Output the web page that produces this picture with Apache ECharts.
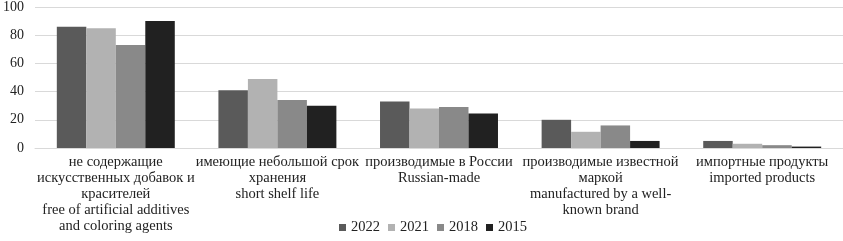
<!DOCTYPE html>
<html>
<head>
<meta charset="utf-8">
<script src="https://cdn.jsdelivr.net/npm/echarts@6/dist/echarts.min.js"></script>
<style>
  html, body { margin: 0; padding: 0; background: #fff; }
  #chart { width: 843px; height: 241px; }
</style>
</head>
<body>
<div id="chart"></div>
<script>
const categories = [
  'не содержащие\nискусственных добавок и\nкрасителей\nfree of artificial additives\nand coloring agents',
  'имеющие небольшой срок\nхранения\nshort shelf life',
  'производимые в России\nRussian-made',
  'производимые известной\nмаркой\nmanufactured by a well-\nknown brand',
  'импортные продукты\nimported products'
]
const years = ['2022', '2021', '2018', '2015']
const values2022 = [86, 41, 33, 20, 5]
const values2021 = [85, 49, 28, 11.5, 3]
const values2018 = [73, 34, 29, 16, 2]
const values2015 = [90, 30, 24.5, 5, 1]
const yTicks = [0, 20, 40, 60, 80, 100]

const colors = ['#5a5a5a', '#b2b2b2', '#898989', '#212121']
const font = 'Liberation Serif'

const chart = echarts.init(document.getElementById('chart'))
chart.setOption({
  animation: false,
  textStyle: { fontFamily: font },
  grid: {
    left: 32,
    right: -16,
    top: 5,
    bottom: 93
  },
  legend: {
    data: years,
    top: 215,
    left: 334,
    itemWidth: 7,
    itemHeight: 7,
    itemGap: 8,
    icon: 'rect',
    textStyle: {
      fontFamily: font,
      fontSize: 14.5,
      color: '#222'
    }
  },
  xAxis: {
    type: 'category',
    data: categories,
    axisLine: { lineStyle: { color: '#d9d9d9' } },
    axisTick: { show: false },
    axisLabel: {
      interval: 0,
      margin: 6,
      fontFamily: font,
      fontSize: 14.5,
      lineHeight: 16,
      color: '#222'
    }
  },
  yAxis: {
    type: 'value',
    min: yTicks[0],
    max: yTicks[yTicks.length - 1],
    interval: 20,
    axisLine: { show: false },
    axisTick: { show: false },
    splitLine: { lineStyle: { color: '#d9d9d9', width: 1 } },
    axisLabel: {
      margin: 11,
      fontFamily: font,
      fontSize: 14,
      color: '#222'
    }
  },
  series: [values2022, values2021, values2018, values2015].map((vals, i) => ({
    name: years[i],
    type: 'bar',
    data: vals,
    barGap: '0%',
    barCategoryGap: '27%',
    itemStyle: { color: colors[i] }
  }))
})
</script>
</body>
</html>
